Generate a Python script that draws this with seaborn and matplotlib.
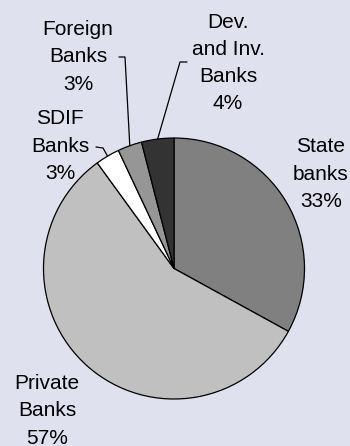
import numpy as np
import matplotlib
matplotlib.use("Agg")
import matplotlib.pyplot as plt
import seaborn as sns

categories = ["State\nbanks", "Private\nBanks", "SDIF\nBanks", "Foreign\nBanks", "Dev.\nand Inv.\nBanks"]
values = [33, 57, 3, 3, 4]
colors = ["#808080", "#c0c0c0", "#ffffff", "#969696", "#333333"]

sns.set_style("white")
plt.rcParams["font.family"] = ["Liberation Sans", "DejaVu Sans"]

W, H = 350, 446
fig = plt.figure(figsize=(W / 100, H / 100), dpi=100)
bg = "#e0e1ef"
fig.patch.set_facecolor(bg)
ax = fig.add_axes([0, 0, 1, 1])
ax.set_facecolor(bg)

cx, cy, R = 174, H - 268.5, 130.5
wedges, _ = ax.pie(values, colors=colors, startangle=90, counterclock=False,
                   center=(cx, cy), radius=R, frame=True,
                   wedgeprops=dict(edgecolor="black", linewidth=0.9))
ax.set_xlim(0, W)
ax.set_ylim(0, H)
ax.axis("off")

# label positions (pixel coords from top)
label_pos = [(321, 174), (47, 411), (60, 146), (78, 57), (228, 63)]
fs = 15
for lab, v, (x, y) in zip(categories, values, label_pos):
    ax.text(x, H - y, f"{lab}\n{v}%", ha="center", va="center", fontsize=fs,
            linespacing=1.55, color="black")

def edge_point(i):
    w = wedges[i]
    ang = np.deg2rad((w.theta1 + w.theta2) / 2)
    return cx + R * np.cos(ang), cy + R * np.sin(ang)

# leader lines: SDIF, Foreign, Dev
leaders = {
    2: [(96, 147), (103, 148)],
    3: [(119, 57), (125, 57)],
    4: [(187, 62), (180, 62)],
}
for i, pts in leaders.items():
    ex, ey = edge_point(i)
    xs = [p[0] for p in pts] + [ex]
    ys = [H - p[1] for p in pts] + [ey]
    ax.plot(xs, ys, color="black", linewidth=0.9)

fig.savefig("out.png", dpi=100, facecolor=bg)
